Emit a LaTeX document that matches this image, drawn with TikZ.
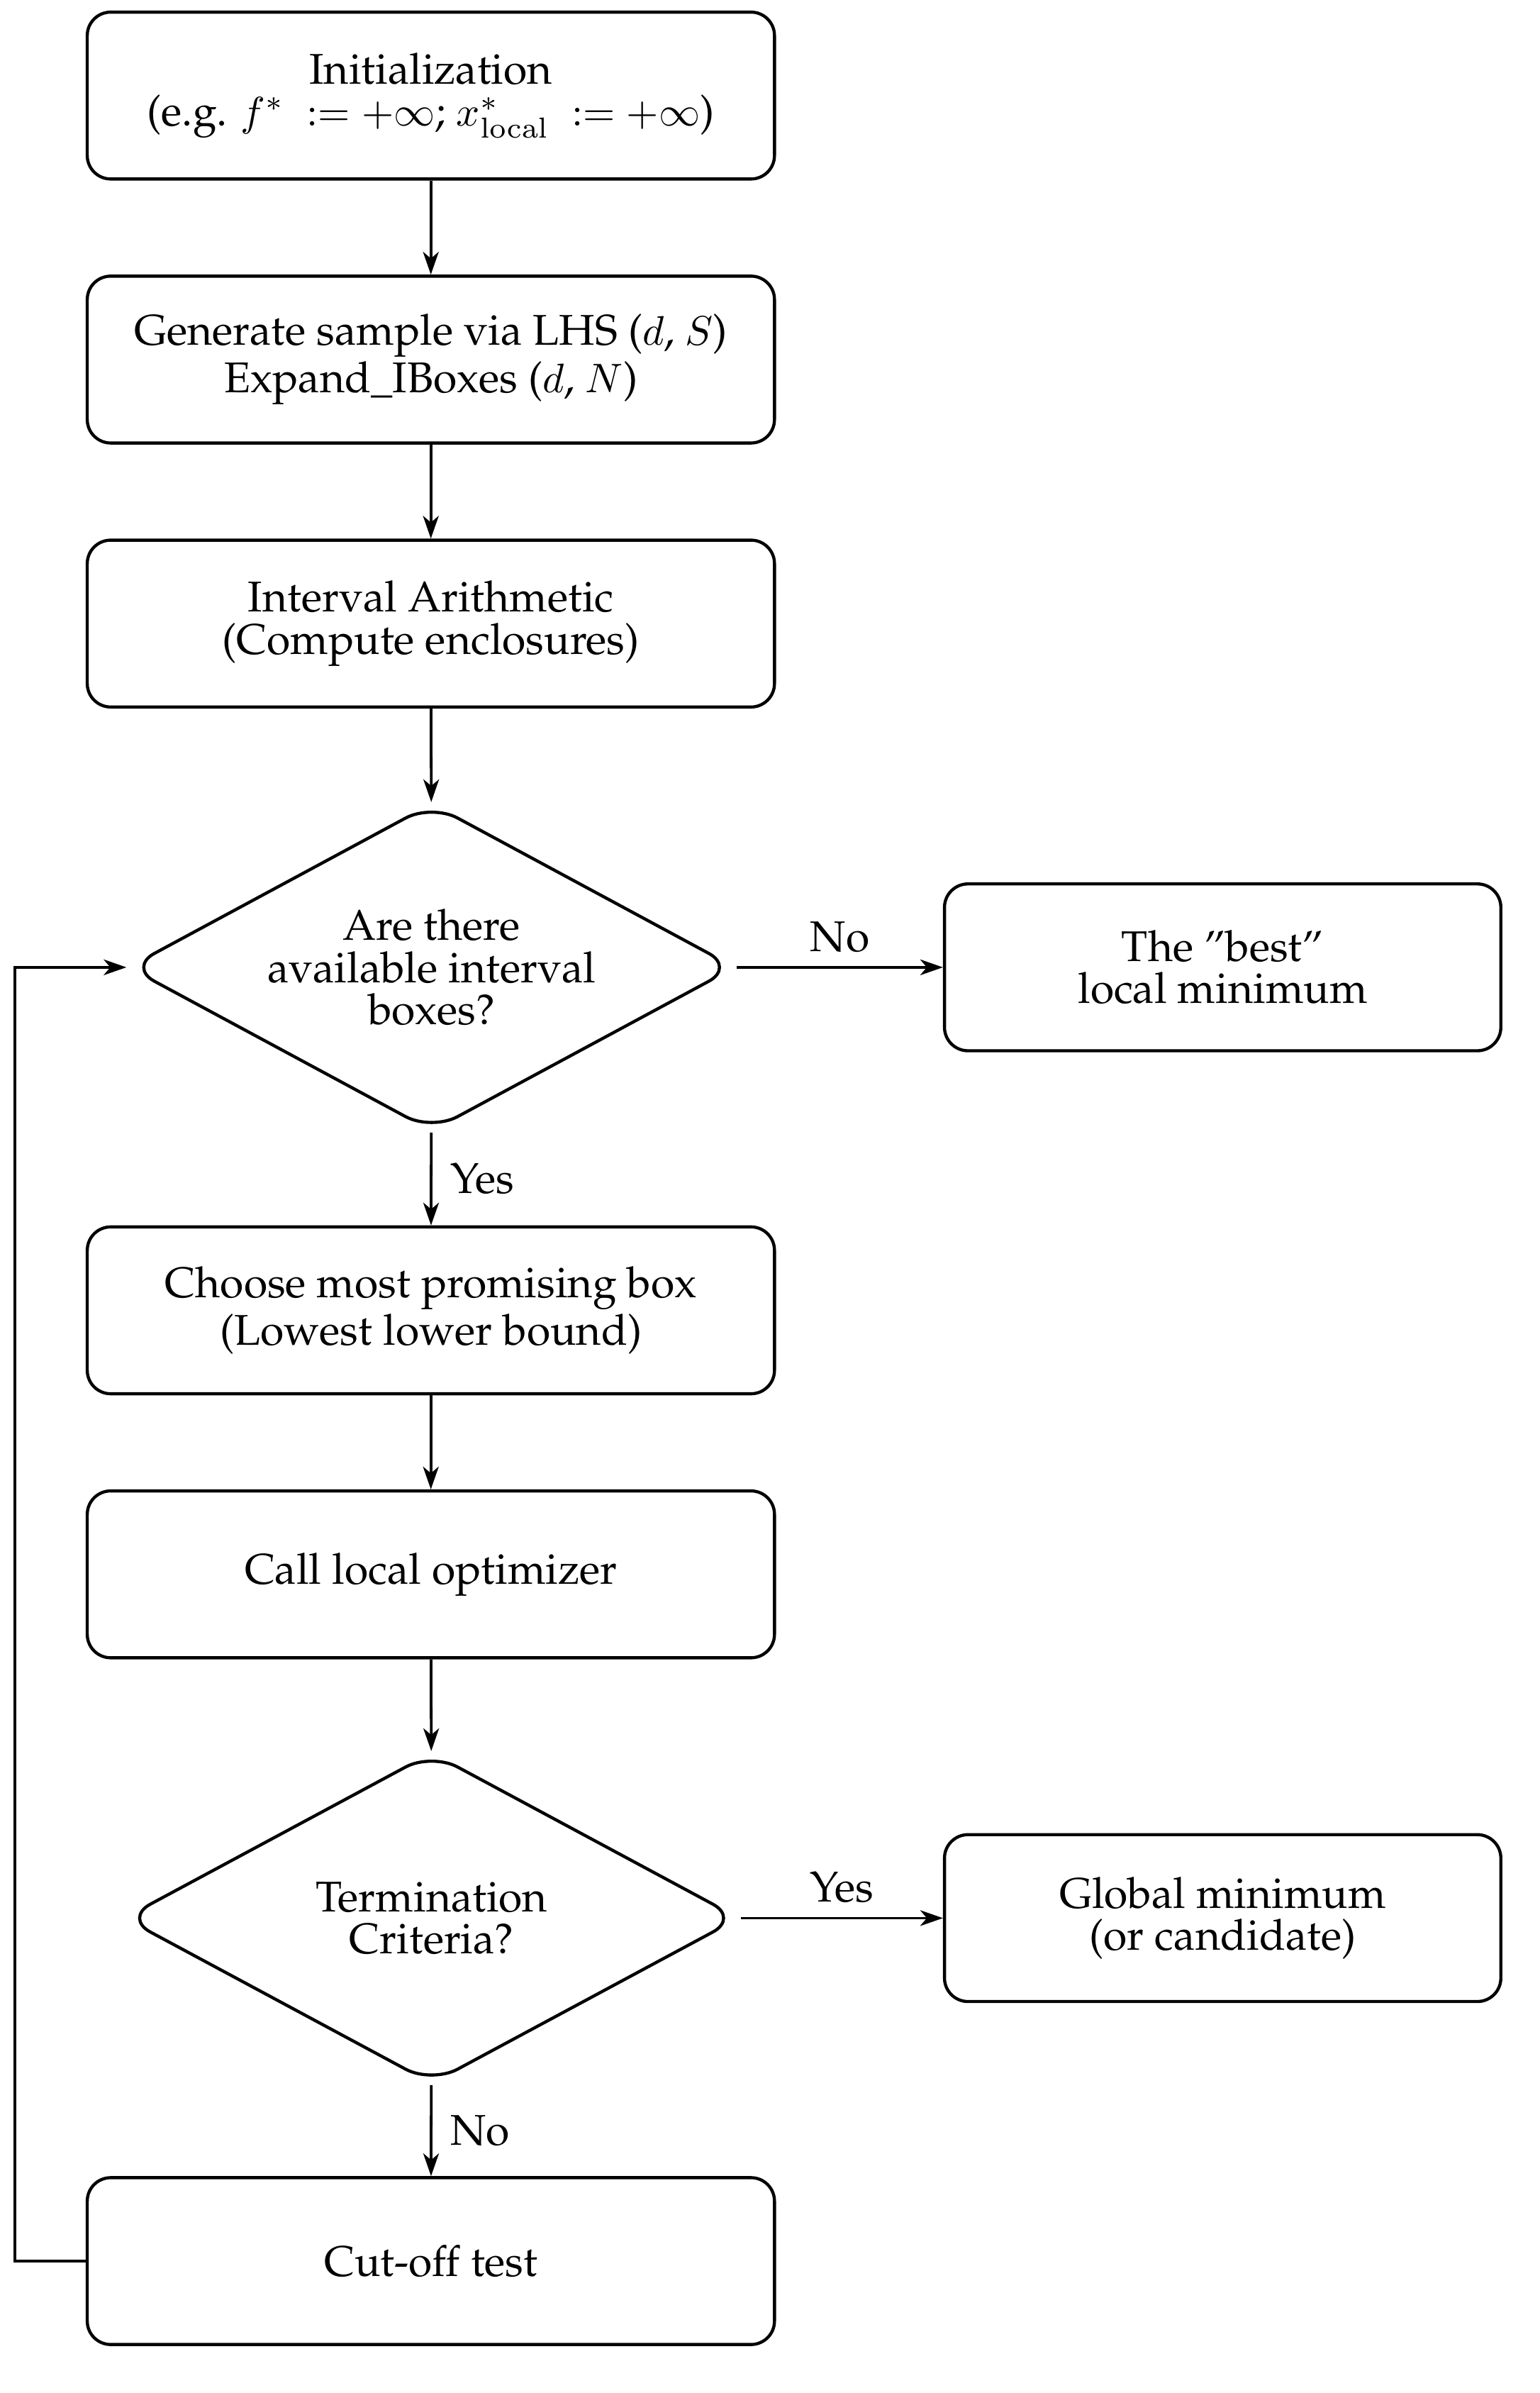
\documentclass[tikz,border=0pt]{standalone}
\usepackage[T1]{fontenc}
\usepackage{palatino}
\usetikzlibrary{shapes.geometric,arrows.meta}
\tikzset{
  base/.style={font=\fontsize{10.4}{10.2}\selectfont, align=center},
  stepbox/.style={base, draw, line width=0.75pt, rounded corners=0.2cm, minimum width=5.85cm, minimum height=1.42cm, inner sep=0pt},
  sidebox/.style={base, draw, line width=0.75pt, rounded corners=0.2cm, minimum width=4.736cm, minimum height=1.42cm, inner sep=0pt},
  decision/.style={base, draw, diamond, line width=0.75pt, rounded corners=0.25cm, aspect=1.9, inner sep=0pt},
  arr/.style={line width=0.65pt, -{Stealth[length=5.5pt,width=3.8pt,inset=1.6pt]}},
  lbl/.style={font=\fontsize{10.4}{10.2}\selectfont}
}
\begin{document}
\begin{tikzpicture}[x=0.0128cm, y=-0.0128cm]
\useasboundingbox (0,0) rectangle (1024,1590.7);
\node[stepbox] (b1) at (286.5,63.5) {Initialization\\(e.g. $f^*\ := +\infty$; $x^*_{\mathrm{local}}\ := +\infty$)};
\node[stepbox] (b2) at (286.5,239) {Generate sample via LHS ($d$, $S$)\\Expand\_IBoxes ($d$, $N$)};
\node[stepbox] (b3) at (286.5,414.5) {Interval Arithmetic\\(Compute enclosures)};
\node[decision, minimum width=5.17cm, minimum height=2.79cm] (d1) at (287,643) {Are there\\available interval\\boxes?};
\node[sidebox] (r1) at (813,643) {The ''best''\\local minimum};
\node[stepbox] (b4) at (286.5,871) {Choose most promising box\\(Lowest lower bound)};
\node[stepbox] (b5) at (286.5,1046.5) {Call local optimizer};
\node[decision, minimum width=5.24cm, minimum height=2.82cm] (d2) at (287,1275) {Termination\\Criteria?};
\node[sidebox] (r2) at (813,1275) {Global minimum\\(or candidate)};
\node[stepbox] (b6) at (286.5,1503) {Cut-off test};
\coordinate (fb) at (10,1503);

\draw[arr] (b1) -- (b2);
\draw[arr] (b2) -- (b3);
\draw[arr] (b3) -- (d1);
\draw[arr] (d1) -- node[lbl, above] (no1) {No} (r1);
\draw[arr] (d1) -- node[lbl, right, xshift=1pt] (yes1) {Yes} (b4);
\draw[arr] (b4) -- (b5);
\draw[arr] (b5) -- (d2);
\draw[arr] (d2) -- node[lbl, above] (yes2) {Yes} (r2);
\draw[arr] (d2) -- node[lbl, right, xshift=1pt] (no2) {No} (b6);
\draw[arr] (b6.west) -- (fb) |- (d1.west);
\end{tikzpicture}
\end{document}
